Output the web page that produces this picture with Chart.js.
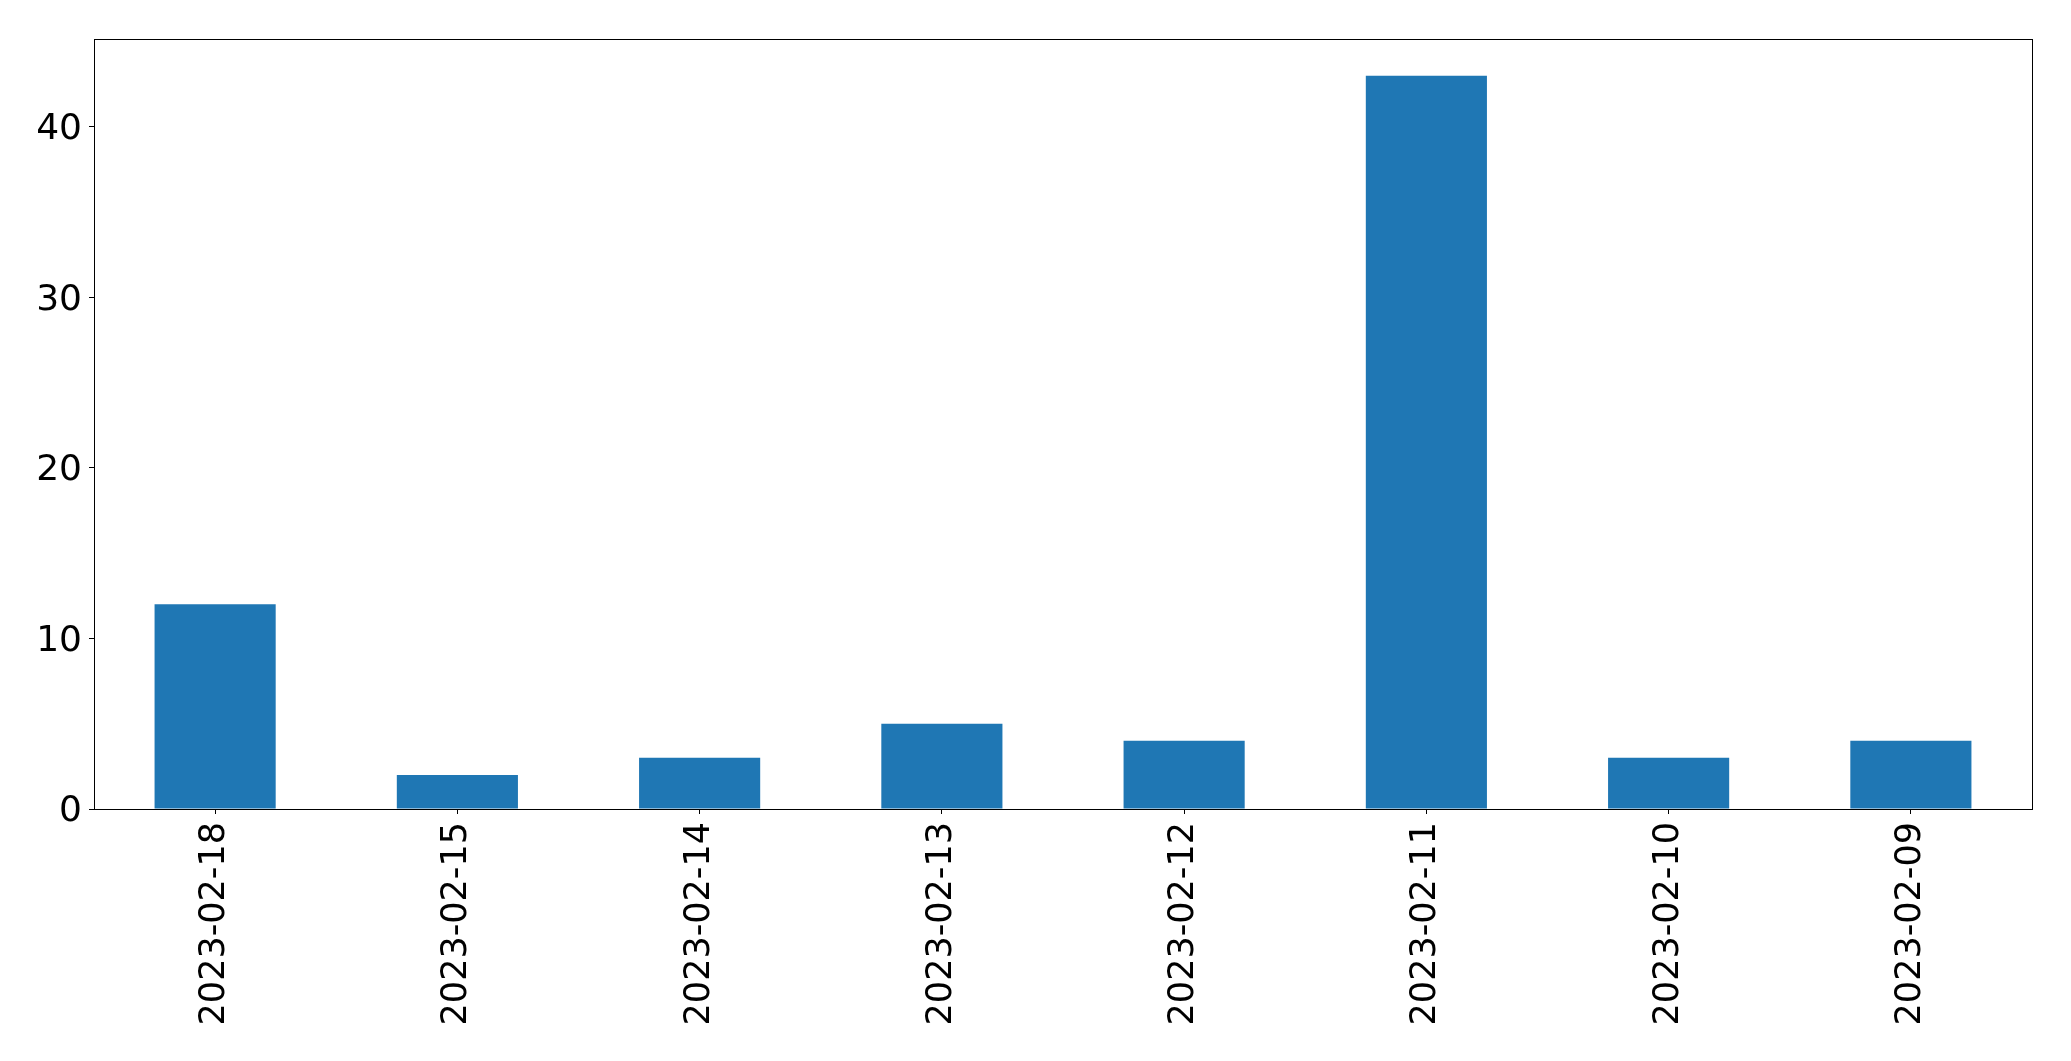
<!DOCTYPE html>
<html>
<head>
<meta charset="utf-8">
<script src="https://cdn.jsdelivr.net/npm/chart.js@4/dist/chart.umd.min.js"></script>
<style>
html,body{margin:0;padding:0;background:#fff;}
#wrap{width:2071px;height:1061px;position:relative;}
</style>
</head>
<body>
<div id="wrap"><canvas id="c"></canvas></div>
<script>
const categories = ["2023-02-18","2023-02-15","2023-02-14","2023-02-13","2023-02-12","2023-02-11","2023-02-10","2023-02-09"];
const counts = [12, 2, 3, 5, 4, 43, 3, 4];
const yTicks = [0, 10, 20, 30, 40];
const yMax = 45.15;

const frame = {
  id: 'frame',
  afterDraw(chart) {
    const a = chart.chartArea, ctx = chart.ctx;
    ctx.save();
    ctx.strokeStyle = '#000';
    ctx.lineWidth = 1;
    ctx.strokeRect(Math.round(a.left) + 0.5, Math.round(a.top) + 0.5, Math.round(a.right - a.left), Math.round(a.bottom - a.top));
    ctx.restore();
  }
};

const xFont = { family: "'DejaVu Sans', sans-serif", size: 35 };
const yFont = { family: "'DejaVu Sans', sans-serif", size: 36 };

new Chart(document.getElementById('c'), {
  type: 'bar',
  data: {
    labels: categories,
    datasets: [{
      data: counts,
      backgroundColor: '#1f77b4',
      borderWidth: 0,
      barPercentage: 0.5,
      categoryPercentage: 1.0
    }]
  },
  options: {
    responsive: true,
    maintainAspectRatio: false,
    animation: false,
    layout: { padding: { top: 39, right: 39, left: 0, bottom: 0 } },
    plugins: { legend: { display: false }, tooltip: { enabled: false } },
    scales: {
      x: {
        offset: true,
        grid: { display: true, offset: false, drawOnChartArea: false, drawTicks: true, tickLength: 5, color: '#000', tickColor: '#000' },
        border: { display: true, color: '#000', width: 1 },
        ticks: { color: '#000', font: xFont, minRotation: 90, maxRotation: 90, padding: 8, autoSkip: false },
        afterFit(scale) { scale.height = 252; }
      },
      y: {
        min: 0,
        max: yMax,
        grid: { display: true, drawOnChartArea: false, drawTicks: true, tickLength: 5, color: '#000', tickColor: '#000' },
        border: { display: true, color: '#000', width: 1 },
        ticks: { color: '#000', font: yFont, padding: 7, labelOffset: 3, stepSize: 10, includeBounds: false },
        afterBuildTicks(scale) { scale.ticks = yTicks.map(v => ({ value: v })); },
        afterFit(scale) { scale.width = 94; }
      }
    }
  },
  plugins: [frame]
});
</script>
</body>
</html>
